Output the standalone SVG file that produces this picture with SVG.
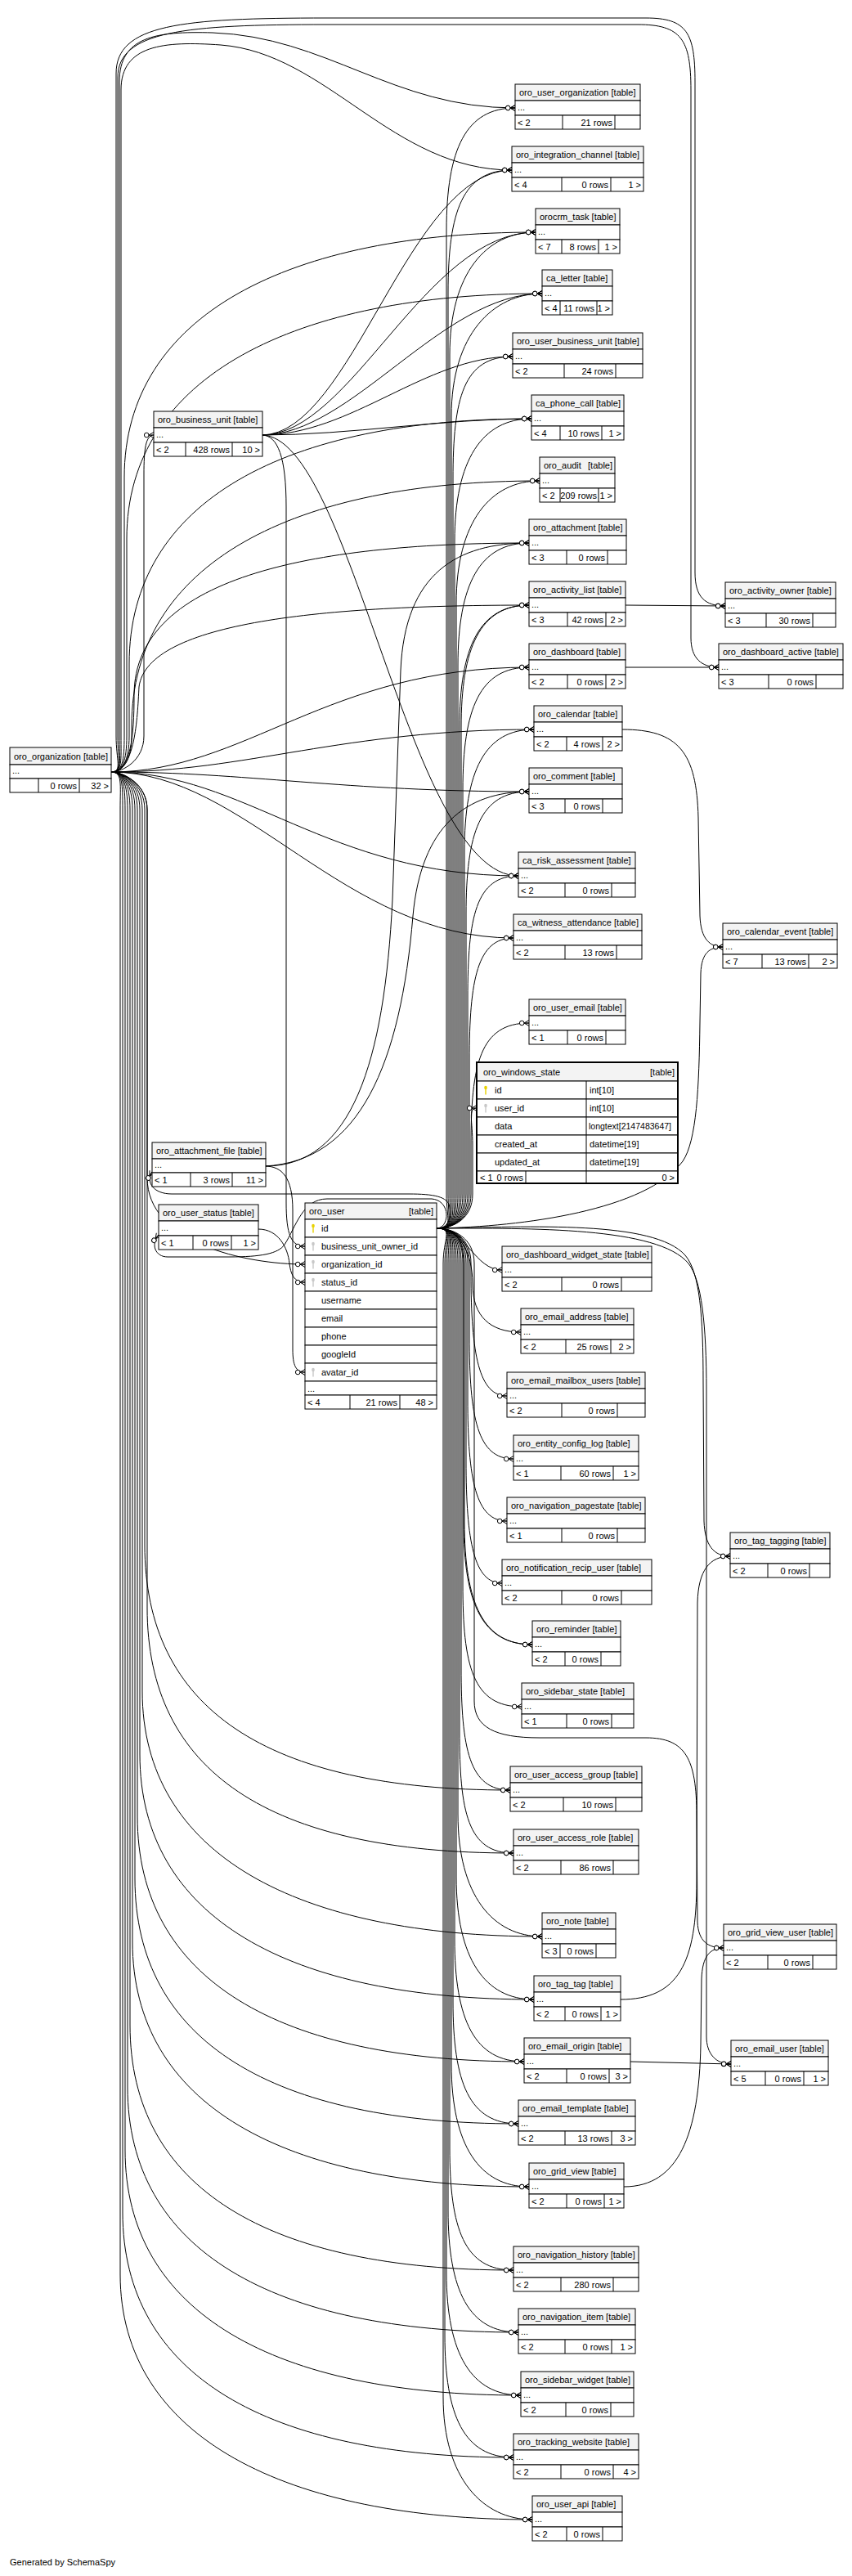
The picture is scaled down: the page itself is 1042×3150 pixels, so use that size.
<svg xmlns="http://www.w3.org/2000/svg" width="1042" height="3150" viewBox="0 0 1042 3150">
<style>
.t{font-family:"Liberation Sans",Arial,Helvetica,sans-serif;font-size:11px;fill:#000}
.r{text-anchor:end}
.hd{fill:#f3f3f3;stroke:#000;stroke-width:1}
.bx{fill:#fff;stroke:#000;stroke-width:1}
.sp{stroke:#000;stroke-width:1;fill:none}
.e path{fill:none;stroke:#000;stroke-width:1;marker-end:url(#cf)}
.pk{fill:#e8d200}
.fk{fill:#c8c8c8}
</style>
<defs>
<marker id="cf" viewBox="-13 -5 14 10" refX="0" refY="0" markerWidth="14" markerHeight="10" orient="auto" markerUnits="userSpaceOnUse">
<path d="M-6,0 L0,-3.5 M-6,0 L0,0 M-6,0 L0,3.5" stroke="#000" fill="none" stroke-width="1"/>
<circle cx="-8.8" cy="0" r="2.8" fill="#fff" stroke="#000" stroke-width="1"/>
</marker>
<g id="key"><ellipse cx="0" cy="-3" rx="1.8" ry="2.2"/><rect x="-0.7" y="-1.5" width="1.4" height="7"/></g>
</defs>
<rect width="1042" height="3150" fill="#fff"/>
<g id="edges" class="e">
<!-- oro_organization -->
<path d="M136,944 C150,944 146,930 146,900 L146,100 C146,45 190,38 260,40 C400,45 480,132 630,132"/>
<path d="M136,944 C150,944 148,930 148,900 L148,110 C148,55 200,50 270,55 C400,65 480,208 626,208"/>
<path d="M136,944 C150,944 152,930 152,900 L152,584 C152,384 355,284 655,284"/>
<path d="M136,944 C150,944 155,930 155,900 L155,659 C155,459 363,359 663,359"/>
<path d="M136,944 C150,944 158,930 158,900 L158,812 C158,612 350,512 650,512"/>
<path d="M136,944 C150,944 161,930 161,900 L161,888 C161,688 360,588 660,588"/>
<path d="M136,944 C160,944 164,900 164,850 C164,700 400,664 647,664"/>
<path d="M136,944 C165,944 168,880 170,840 C180,760 400,740 647,740"/>
<path d="M136,944 C300,944 400,816 647,816"/>
<path d="M136,944 C300,944 420,892 653,892"/>
<path d="M136,944 C300,944 420,968 647,968"/>
<path d="M136,944 C150,944 142,930 142,900 L142,90 C142,30 220,22 400,22 L790,22 C840,22 850,40 850,100 L850,700 C850,730 862,741 887,741"/>
<path d="M136,944 C150,944 144,930 144,900 L144,95 C144,38 225,30 400,30 L780,30 C833,30 845,48 845,110 L845,780 C845,805 858,816 879,816"/>
<path d="M136,944 C150,944 176,930 176,900 L176,580 C176,550 178,532 188,532"/>
<path d="M136,944 C300,944 400,1071 634,1071"/>
<path d="M136,944 C300,944 420,1147 628,1147"/>
<path d="M136,944 C150,944 180,958 180,990 L180,1440 C180,1520 300,1546 373,1546"/>
<path d="M136,944 C150,944 180,958 180,990 L180,1966 C180,2166 328,2266 628,2266"/>
<path d="M136,944 C150,944 177,958 177,990 L177,1889 C177,2089 324,2189 624,2189"/>
<path d="M136,944 C150,944 174,958 174,990 L174,2068 C174,2268 363,2368 663,2368"/>
<path d="M136,944 C150,944 171,958 171,990 L171,2145 C171,2345 353,2445 653,2445"/>
<path d="M136,944 C150,944 168,958 168,990 L168,2221 C168,2421 341,2521 641,2521"/>
<path d="M136,944 C150,944 165,958 165,990 L165,2297 C165,2497 334,2597 634,2597"/>
<path d="M136,944 C150,944 162,958 162,990 L162,2374 C162,2574 347,2674 647,2674"/>
<path d="M136,944 C150,944 159,958 159,990 L159,2476 C159,2676 328,2776 628,2776"/>
<path d="M136,944 C150,944 156,958 156,990 L156,2552 C156,2752 334,2852 634,2852"/>
<path d="M136,944 C150,944 153,958 153,990 L153,2629 C153,2829 337,2929 637,2929"/>
<path d="M136,944 C150,944 150,958 150,990 L150,2705 C150,2905 328,3005 628,3005"/>
<path d="M136,944 C150,944 147,958 147,990 L147,2781 C147,2981 351,3081 651,3081"/>
<!-- oro_user -->
<path d="M534,1502 C555,1502 546,1490 546,1460 L546,282 C546,182 570,132 630,132"/>
<path d="M534,1502 C555,1502 548,1490 548,1460 L548,358 C548,258 566,208 626,208"/>
<path d="M534,1502 C555,1502 550,1490 550,1460 L550,434 C550,334 595,284 655,284"/>
<path d="M534,1502 C555,1502 552,1490 552,1460 L552,509 C552,409 603,359 663,359"/>
<path d="M534,1502 C555,1502 554,1490 554,1460 L554,586 C554,486 567,436 627,436"/>
<path d="M534,1502 C555,1502 556,1490 556,1460 L556,662 C556,562 590,512 650,512"/>
<path d="M534,1502 C555,1502 558,1490 558,1460 L558,738 C558,638 600,588 660,588"/>
<path d="M534,1502 C555,1502 560,1490 560,1460 L560,814 C560,714 587,664 647,664"/>
<path d="M534,1502 C555,1502 562,1490 562,1460 L562,890 C562,790 587,740 647,740"/>
<path d="M534,1502 C555,1502 564,1490 564,1460 L564,890 C564,792 587,740 647,740"/>
<path d="M534,1502 C555,1502 566,1490 566,1460 L566,966 C566,866 587,816 647,816"/>
<path d="M534,1502 C555,1502 568,1490 568,1460 L568,1042 C568,942 593,892 653,892"/>
<path d="M534,1502 C555,1502 570,1490 570,1460 L570,1118 C570,1018 587,968 647,968"/>
<path d="M534,1502 C555,1502 572,1490 572,1460 L572,1221 C572,1121 582,1071 634,1071"/>
<path d="M534,1502 C555,1502 574,1490 574,1460 L574,1297 C574,1197 584,1147 628,1147"/>
<path d="M534,1502 C555,1502 576,1490 576,1460 L576,1401 C576,1301 587,1251 647,1251"/>
<path d="M534,1502 C555,1502 578,1490 578,1460 L578,1400 C578,1370 572,1355 583,1355"/>
<path d="M534,1502 C570,1502 580,1553 614,1553"/>
<path d="M534,1502 C560,1502 578,1530 578,1570 C578,1610 600,1629 637,1629"/>
<path d="M534,1502 C555,1502 576,1514 576,1545 L576,1557 C576,1657 586,1707 620,1707"/>
<path d="M534,1502 C555,1502 574,1514 574,1545 L574,1634 C574,1734 584,1784 628,1784"/>
<path d="M534,1502 C555,1502 572,1514 572,1545 L572,1710 C572,1810 582,1860 620,1860"/>
<path d="M534,1502 C555,1502 570,1514 570,1545 L570,1786 C570,1886 580,1936 614,1936"/>
<path d="M534,1502 C555,1502 568,1514 568,1545 L568,1861 C568,1961 591,2011 651,2011"/>
<path d="M534,1502 C555,1502 567,1514 567,1545 L567,1861 C567,1963 591,2011 651,2011"/>
<path d="M534,1502 C555,1502 566,1514 566,1545 L566,1937 C566,2037 578,2087 638,2087"/>
<path d="M534,1502 C555,1502 564,1514 564,1545 L564,2039 C564,2139 574,2189 624,2189"/>
<path d="M534,1502 C555,1502 562,1514 562,1545 L562,2116 C562,2216 572,2266 628,2266"/>
<path d="M534,1502 C555,1502 560,1514 560,1545 L560,2218 C560,2318 603,2368 663,2368"/>
<path d="M534,1502 C555,1502 558,1514 558,1545 L558,2295 C558,2395 593,2445 653,2445"/>
<path d="M534,1502 C555,1502 556,1514 556,1545 L556,2371 C556,2471 581,2521 641,2521"/>
<path d="M534,1502 C555,1502 554,1514 554,1545 L554,2447 C554,2547 574,2597 634,2597"/>
<path d="M534,1502 C555,1502 552,1514 552,1545 L552,2524 C552,2624 587,2674 647,2674"/>
<path d="M534,1502 C555,1502 550,1514 550,1545 L550,2626 C550,2726 568,2776 628,2776"/>
<path d="M534,1502 C555,1502 548,1514 548,1545 L548,2702 C548,2802 574,2852 634,2852"/>
<path d="M534,1502 C555,1502 546,1514 546,1545 L546,2779 C546,2879 577,2929 637,2929"/>
<path d="M534,1502 C555,1502 544,1514 544,1545 L544,2855 C544,2955 568,3005 628,3005"/>
<path d="M534,1502 C555,1502 542,1514 542,1545 L542,2931 C542,3031 591,3081 651,3081"/>
<path d="M534,1502 C640,1500 790,1480 835,1420 C852,1395 855,1330 856,1250 L857,1190 C858,1165 868,1158 884,1158"/>
<path d="M534,1502 C650,1500 800,1492 838,1535 C856,1556 860,1610 860,1690 L861,1860 C862,1890 873,1903 893,1903"/>
<path d="M534,1502 C555,1502 580,1514 580,1545 L580,2080 C580,2112 605,2125 660,2125 L790,2125 C838,2125 852,2150 852,2220 L853,2350 C854,2374 866,2382 885,2382"/>
<path d="M534,1502 C650,1502 805,1500 842,1545 C858,1565 864,1620 864,1700 L864,2490 C864,2512 876,2524 894,2524"/>
<path d="M534,1502 C548,1502 552,1490 550,1476 C548,1463 530,1460 500,1460 L210,1460 C188,1460 178,1446 186,1433"/>
<path d="M534,1502 C550,1502 552,1468 528,1466 L400,1466 C370,1466 362,1500 348,1522 C340,1533 320,1537 280,1537 L205,1537 C190,1537 184,1522 194,1510"/>
<!-- oro_business_unit -->
<path d="M320,532 C340,532 350,560 350,620 L350,1470 C350,1510 356,1524 373,1524"/>
<path d="M320,532 C430,532 500,208 626,208"/>
<path d="M320,532 C430,532 520,284 655,284"/>
<path d="M320,532 C430,532 540,359 663,359"/>
<path d="M320,532 C430,532 520,436 627,436"/>
<path d="M320,532 C430,532 540,512 650,512"/>
<path d="M320,532 C430,532 500,1071 634,1071"/>
<!-- oro_attachment_file -->
<path d="M324,1426 C345,1426 358,1440 358,1480 L358,1650 C358,1670 362,1678 373,1678"/>
<path d="M324,1426 C430,1426 470,1300 480,1100 L490,820 C495,700 560,664 647,664"/>
<path d="M324,1426 C440,1420 490,1300 505,1120 C515,1010 570,968 647,968"/>
<!-- oro_user_status -->
<path d="M316,1503 C340,1503 352,1525 354,1545 C356,1562 362,1568 373,1568"/>
<!-- others -->
<path d="M765,740 L887,741"/>
<path d="M765,816 L879,816"/>
<path d="M761,892 C830,892 852,920 854,1000 L856,1120 C857,1148 868,1158 884,1158"/>
<path d="M759,2445 C830,2445 852,2400 852,2300 L853,1960 C854,1920 868,1903 893,1903"/>
<path d="M763,2674 C830,2674 855,2610 857,2500 L858,2420 C859,2392 868,2382 885,2382"/>
<path d="M771,2521 L894,2524"/>
</g>
<g id="oro_organization" transform="translate(12,914)"><rect class="hd" width="124" height="21"/><rect class="bx" y="21" width="124" height="17"/><rect class="bx" y="38" width="124" height="17"/><path class="sp" d="M35,38v17M85,38v17"/><text class="t" x="5" y="15">oro_organization [table]</text><text class="t" x="3" y="32">...</text><text class="t r" x="82" y="51">0 rows</text><text class="t r" x="121" y="51">32 &gt;</text></g>
<g id="oro_business_unit" transform="translate(188,503)"><rect class="hd" width="133" height="20"/><rect class="bx" y="20" width="133" height="18"/><rect class="bx" y="38" width="133" height="17"/><path class="sp" d="M39,38v17M96,38v17"/><text class="t" x="5" y="14">oro_business_unit [table]</text><text class="t" x="3" y="32">...</text><text class="t" x="3" y="51">&lt; 2</text><text class="t r" x="93" y="51">428 rows</text><text class="t r" x="130" y="51">10 &gt;</text></g>
<g id="oro_attachment_file" transform="translate(186,1397)"><rect class="hd" width="139" height="20"/><rect class="bx" y="20" width="139" height="17"/><rect class="bx" y="37" width="139" height="17"/><path class="sp" d="M47,37v17M98,37v17"/><text class="t" x="5" y="14">oro_attachment_file [table]</text><text class="t" x="3" y="31">...</text><text class="t" x="3" y="50">&lt; 1</text><text class="t r" x="95" y="50">3 rows</text><text class="t r" x="136" y="50">11 &gt;</text></g>
<g id="oro_user_status" transform="translate(194,1473)"><rect class="hd" width="122" height="20"/><rect class="bx" y="20" width="122" height="18"/><rect class="bx" y="38" width="122" height="17"/><path class="sp" d="M42,38v17M89,38v17"/><text class="t" x="5" y="14">oro_user_status [table]</text><text class="t" x="3" y="32">...</text><text class="t" x="3" y="51">&lt; 1</text><text class="t r" x="86" y="51">0 rows</text><text class="t r" x="119" y="51">1 &gt;</text></g>
<g id="oro_user" transform="translate(373,1471)"><rect class="hd" width="161" height="20"/>
<rect class="bx" y="20" width="161" height="22"/><rect class="bx" y="42" width="161" height="22"/><rect class="bx" y="64" width="161" height="22"/><rect class="bx" y="86" width="161" height="22"/><rect class="bx" y="108" width="161" height="22"/><rect class="bx" y="130" width="161" height="22"/><rect class="bx" y="152" width="161" height="22"/><rect class="bx" y="174" width="161" height="22"/><rect class="bx" y="196" width="161" height="22"/><rect class="bx" y="218" width="161" height="17"/><rect class="bx" y="235" width="161" height="17"/><path class="sp" d="M55,235v17M116,235v17"/>
<text class="t" x="5" y="14">oro_user</text><text class="t r" x="157" y="14">[table]</text>
<use href="#key" class="pk" x="10" y="31"/><use href="#key" class="fk" x="10" y="53"/><use href="#key" class="fk" x="10" y="75"/><use href="#key" class="fk" x="10" y="97"/><use href="#key" class="fk" x="10" y="207"/>
<text class="t" x="20" y="35">id</text><text class="t" x="20" y="57">business_unit_owner_id</text><text class="t" x="20" y="79">organization_id</text><text class="t" x="20" y="101">status_id</text><text class="t" x="20" y="123">username</text><text class="t" x="20" y="145">email</text><text class="t" x="20" y="167">phone</text><text class="t" x="20" y="189">googleId</text><text class="t" x="20" y="211">avatar_id</text>
<text class="t" x="3" y="231">...</text><text class="t" x="3" y="248">&lt; 4</text><text class="t r" x="113" y="248">21 rows</text><text class="t r" x="157" y="248">48 &gt;</text></g>
<g id="oro_windows_state" transform="translate(583,1299)"><rect class="hd" width="246" height="23"/>
<rect class="bx" y="23" width="246" height="22"/><rect class="bx" y="45" width="246" height="22"/><rect class="bx" y="67" width="246" height="22"/><rect class="bx" y="89" width="246" height="22"/><rect class="bx" y="111" width="246" height="22"/><rect class="bx" y="133" width="246" height="15"/>
<path class="sp" d="M134,23v125M60,133v15"/>
<rect width="246" height="148" fill="none" stroke="#000" stroke-width="2"/>
<text class="t" x="8" y="16">oro_windows_state</text><text class="t r" x="242" y="16">[table]</text>
<use href="#key" class="pk" x="11" y="34"/><use href="#key" class="fk" x="11" y="56"/>
<text class="t" x="22" y="38">id</text><text class="t" x="138" y="38">int[10]</text>
<text class="t" x="22" y="60">user_id</text><text class="t" x="138" y="60">int[10]</text>
<text class="t" x="22" y="82">data</text><text class="t" x="137" y="82" style="font-size:10.5px">longtext[2147483647]</text>
<text class="t" x="22" y="104">created_at</text><text class="t" x="138" y="104">datetime[19]</text>
<text class="t" x="22" y="126">updated_at</text><text class="t" x="138" y="126">datetime[19]</text>
<text class="t" x="4" y="145">&lt; 1</text><text class="t r" x="57" y="145">0 rows</text><text class="t r" x="242" y="145">0 &gt;</text></g>
<g id="oro_user_organization" transform="translate(630,103)"><rect class="hd" width="153" height="20"/><rect class="bx" y="20" width="153" height="18"/><rect class="bx" y="38" width="153" height="17"/><path class="sp" d="M58,38v17M122,38v17"/><text class="t" x="5" y="14">oro_user_organization [table]</text><text class="t" x="3" y="32">...</text><text class="t" x="3" y="51">&lt; 2</text><text class="t r" x="119" y="51">21 rows</text></g>
<g id="oro_integration_channel" transform="translate(626,179)"><rect class="hd" width="161" height="20"/><rect class="bx" y="20" width="161" height="18"/><rect class="bx" y="38" width="161" height="17"/><path class="sp" d="M61,38v17M121,38v17"/><text class="t" x="5" y="14">oro_integration_channel [table]</text><text class="t" x="3" y="32">...</text><text class="t" x="3" y="51">&lt; 4</text><text class="t r" x="118" y="51">0 rows</text><text class="t r" x="158" y="51">1 &gt;</text></g>
<g id="orocrm_task" transform="translate(655,255)"><rect class="hd" width="103" height="20"/><rect class="bx" y="20" width="103" height="18"/><rect class="bx" y="38" width="103" height="17"/><path class="sp" d="M32,38v17M77,38v17"/><text class="t" x="5" y="14">orocrm_task [table]</text><text class="t" x="3" y="32">...</text><text class="t" x="3" y="51">&lt; 7</text><text class="t r" x="74" y="51">8 rows</text><text class="t r" x="100" y="51">1 &gt;</text></g>
<g id="ca_letter" transform="translate(663,330)"><rect class="hd" width="86" height="20"/><rect class="bx" y="20" width="86" height="18"/><rect class="bx" y="38" width="86" height="17"/><path class="sp" d="M22,38v17M67,38v17"/><text class="t" x="5" y="14">ca_letter [table]</text><text class="t" x="3" y="32">...</text><text class="t" x="3" y="51">&lt; 4</text><text class="t r" x="64" y="51">11 rows</text><text class="t r" x="83" y="51">1 &gt;</text></g>
<g id="oro_user_business_unit" transform="translate(627,407)"><rect class="hd" width="159" height="20"/><rect class="bx" y="20" width="159" height="18"/><rect class="bx" y="38" width="159" height="17"/><path class="sp" d="M63,38v17M126,38v17"/><text class="t" x="5" y="14">oro_user_business_unit [table]</text><text class="t" x="3" y="32">...</text><text class="t" x="3" y="51">&lt; 2</text><text class="t r" x="123" y="51">24 rows</text></g>
<g id="ca_phone_call" transform="translate(650,483)"><rect class="hd" width="113" height="20"/><rect class="bx" y="20" width="113" height="18"/><rect class="bx" y="38" width="113" height="17"/><path class="sp" d="M35,38v17M86,38v17"/><text class="t" x="5" y="14">ca_phone_call [table]</text><text class="t" x="3" y="32">...</text><text class="t" x="3" y="51">&lt; 4</text><text class="t r" x="83" y="51">10 rows</text><text class="t r" x="110" y="51">1 &gt;</text></g>
<g id="oro_audit" transform="translate(660,559)"><rect class="hd" width="92" height="20"/><rect class="bx" y="20" width="92" height="18"/><rect class="bx" y="38" width="92" height="17"/><path class="sp" d="M25,38v17M72,38v17"/><text class="t" x="5" y="14">oro_audit</text><text class="t r" x="89" y="14">[table]</text><text class="t" x="3" y="32">...</text><text class="t" x="3" y="51">&lt; 2</text><text class="t r" x="70" y="51">209 rows</text><text class="t r" x="89" y="51">1 &gt;</text></g>
<g id="oro_attachment" transform="translate(647,635)"><rect class="hd" width="119" height="20"/><rect class="bx" y="20" width="119" height="18"/><rect class="bx" y="38" width="119" height="17"/><path class="sp" d="M46,38v17M96,38v17"/><text class="t" x="5" y="14">oro_attachment [table]</text><text class="t" x="3" y="32">...</text><text class="t" x="3" y="51">&lt; 3</text><text class="t r" x="93" y="51">0 rows</text></g>
<g id="oro_activity_list" transform="translate(647,711)"><rect class="hd" width="118" height="20"/><rect class="bx" y="20" width="118" height="18"/><rect class="bx" y="38" width="118" height="17"/><path class="sp" d="M47,38v17M94,38v17"/><text class="t" x="5" y="14">oro_activity_list [table]</text><text class="t" x="3" y="32">...</text><text class="t" x="3" y="51">&lt; 3</text><text class="t r" x="91" y="51">42 rows</text><text class="t r" x="115" y="51">2 &gt;</text></g>
<g id="oro_dashboard" transform="translate(647,787)"><rect class="hd" width="118" height="20"/><rect class="bx" y="20" width="118" height="18"/><rect class="bx" y="38" width="118" height="17"/><path class="sp" d="M47,38v17M94,38v17"/><text class="t" x="5" y="14">oro_dashboard [table]</text><text class="t" x="3" y="32">...</text><text class="t" x="3" y="51">&lt; 2</text><text class="t r" x="91" y="51">0 rows</text><text class="t r" x="115" y="51">2 &gt;</text></g>
<g id="oro_calendar" transform="translate(653,863)"><rect class="hd" width="108" height="20"/><rect class="bx" y="20" width="108" height="18"/><rect class="bx" y="38" width="108" height="17"/><path class="sp" d="M40,38v17M84,38v17"/><text class="t" x="5" y="14">oro_calendar [table]</text><text class="t" x="3" y="32">...</text><text class="t" x="3" y="51">&lt; 2</text><text class="t r" x="81" y="51">4 rows</text><text class="t r" x="105" y="51">2 &gt;</text></g>
<g id="oro_comment" transform="translate(647,939)"><rect class="hd" width="114" height="20"/><rect class="bx" y="20" width="114" height="18"/><rect class="bx" y="38" width="114" height="17"/><path class="sp" d="M44,38v17M90,38v17"/><text class="t" x="5" y="14">oro_comment [table]</text><text class="t" x="3" y="32">...</text><text class="t" x="3" y="51">&lt; 3</text><text class="t r" x="87" y="51">0 rows</text></g>
<g id="ca_risk_assessment" transform="translate(634,1042)"><rect class="hd" width="143" height="20"/><rect class="bx" y="20" width="143" height="18"/><rect class="bx" y="38" width="143" height="17"/><path class="sp" d="M57,38v17M114,38v17"/><text class="t" x="5" y="14">ca_risk_assessment [table]</text><text class="t" x="3" y="32">...</text><text class="t" x="3" y="51">&lt; 2</text><text class="t r" x="111" y="51">0 rows</text></g>
<g id="ca_witness_attendance" transform="translate(628,1118)"><rect class="hd" width="157" height="20"/><rect class="bx" y="20" width="157" height="18"/><rect class="bx" y="38" width="157" height="17"/><path class="sp" d="M63,38v17M126,38v17"/><text class="t" x="5" y="14">ca_witness_attendance [table]</text><text class="t" x="3" y="32">...</text><text class="t" x="3" y="51">&lt; 2</text><text class="t r" x="123" y="51">13 rows</text></g>
<g id="oro_user_email" transform="translate(647,1222)"><rect class="hd" width="118" height="20"/><rect class="bx" y="20" width="118" height="18"/><rect class="bx" y="38" width="118" height="17"/><path class="sp" d="M47,38v17M94,38v17"/><text class="t" x="5" y="14">oro_user_email [table]</text><text class="t" x="3" y="32">...</text><text class="t" x="3" y="51">&lt; 1</text><text class="t r" x="91" y="51">0 rows</text></g>
<g id="oro_dashboard_widget_state" transform="translate(614,1524)"><rect class="hd" width="183" height="20"/><rect class="bx" y="20" width="183" height="18"/><rect class="bx" y="38" width="183" height="17"/><path class="sp" d="M73,38v17M146,38v17"/><text class="t" x="5" y="14">oro_dashboard_widget_state [table]</text><text class="t" x="3" y="32">...</text><text class="t" x="3" y="51">&lt; 2</text><text class="t r" x="143" y="51">0 rows</text></g>
<g id="oro_email_address" transform="translate(637,1600)"><rect class="hd" width="138" height="20"/><rect class="bx" y="20" width="138" height="18"/><rect class="bx" y="38" width="138" height="17"/><path class="sp" d="M55,38v17M110,38v17"/><text class="t" x="5" y="14">oro_email_address [table]</text><text class="t" x="3" y="32">...</text><text class="t" x="3" y="51">&lt; 2</text><text class="t r" x="107" y="51">25 rows</text><text class="t r" x="135" y="51">2 &gt;</text></g>
<g id="oro_email_mailbox_users" transform="translate(620,1678)"><rect class="hd" width="169" height="20"/><rect class="bx" y="20" width="169" height="18"/><rect class="bx" y="38" width="169" height="17"/><path class="sp" d="M67,38v17M135,38v17"/><text class="t" x="5" y="14">oro_email_mailbox_users [table]</text><text class="t" x="3" y="32">...</text><text class="t" x="3" y="51">&lt; 2</text><text class="t r" x="132" y="51">0 rows</text></g>
<g id="oro_entity_config_log" transform="translate(628,1755)"><rect class="hd" width="153" height="20"/><rect class="bx" y="20" width="153" height="18"/><rect class="bx" y="38" width="153" height="17"/><path class="sp" d="M58,38v17M122,38v17"/><text class="t" x="5" y="14">oro_entity_config_log [table]</text><text class="t" x="3" y="32">...</text><text class="t" x="3" y="51">&lt; 1</text><text class="t r" x="119" y="51">60 rows</text><text class="t r" x="150" y="51">1 &gt;</text></g>
<g id="oro_navigation_pagestate" transform="translate(620,1831)"><rect class="hd" width="169" height="20"/><rect class="bx" y="20" width="169" height="18"/><rect class="bx" y="38" width="169" height="17"/><path class="sp" d="M67,38v17M135,38v17"/><text class="t" x="5" y="14">oro_navigation_pagestate [table]</text><text class="t" x="3" y="32">...</text><text class="t" x="3" y="51">&lt; 1</text><text class="t r" x="132" y="51">0 rows</text></g>
<g id="oro_notification_recip_user" transform="translate(614,1907)"><rect class="hd" width="183" height="20"/><rect class="bx" y="20" width="183" height="18"/><rect class="bx" y="38" width="183" height="17"/><path class="sp" d="M73,38v17M146,38v17"/><text class="t" x="5" y="14">oro_notification_recip_user [table]</text><text class="t" x="3" y="32">...</text><text class="t" x="3" y="51">&lt; 2</text><text class="t r" x="143" y="51">0 rows</text></g>
<g id="oro_reminder" transform="translate(651,1982)"><rect class="hd" width="108" height="20"/><rect class="bx" y="20" width="108" height="18"/><rect class="bx" y="38" width="108" height="17"/><path class="sp" d="M40,38v17M84,38v17"/><text class="t" x="5" y="14">oro_reminder [table]</text><text class="t" x="3" y="32">...</text><text class="t" x="3" y="51">&lt; 2</text><text class="t r" x="81" y="51">0 rows</text></g>
<g id="oro_sidebar_state" transform="translate(638,2058)"><rect class="hd" width="137" height="20"/><rect class="bx" y="20" width="137" height="18"/><rect class="bx" y="38" width="137" height="17"/><path class="sp" d="M55,38v17M110,38v17"/><text class="t" x="5" y="14">oro_sidebar_state [table]</text><text class="t" x="3" y="32">...</text><text class="t" x="3" y="51">&lt; 1</text><text class="t r" x="107" y="51">0 rows</text></g>
<g id="oro_user_access_group" transform="translate(624,2160)"><rect class="hd" width="161" height="20"/><rect class="bx" y="20" width="161" height="18"/><rect class="bx" y="38" width="161" height="17"/><path class="sp" d="M65,38v17M129,38v17"/><text class="t" x="5" y="14">oro_user_access_group [table]</text><text class="t" x="3" y="32">...</text><text class="t" x="3" y="51">&lt; 2</text><text class="t r" x="126" y="51">10 rows</text></g>
<g id="oro_user_access_role" transform="translate(628,2237)"><rect class="hd" width="153" height="20"/><rect class="bx" y="20" width="153" height="18"/><rect class="bx" y="38" width="153" height="17"/><path class="sp" d="M58,38v17M122,38v17"/><text class="t" x="5" y="14">oro_user_access_role [table]</text><text class="t" x="3" y="32">...</text><text class="t" x="3" y="51">&lt; 2</text><text class="t r" x="119" y="51">86 rows</text></g>
<g id="oro_note" transform="translate(663,2339)"><rect class="hd" width="90" height="20"/><rect class="bx" y="20" width="90" height="18"/><rect class="bx" y="38" width="90" height="17"/><path class="sp" d="M22,38v17M66,38v17"/><text class="t" x="5" y="14">oro_note [table]</text><text class="t" x="3" y="32">...</text><text class="t" x="3" y="51">&lt; 3</text><text class="t r" x="63" y="51">0 rows</text></g>
<g id="oro_tag_tag" transform="translate(653,2416)"><rect class="hd" width="106" height="20"/><rect class="bx" y="20" width="106" height="18"/><rect class="bx" y="38" width="106" height="17"/><path class="sp" d="M38,38v17M82,38v17"/><text class="t" x="5" y="14">oro_tag_tag [table]</text><text class="t" x="3" y="32">...</text><text class="t" x="3" y="51">&lt; 2</text><text class="t r" x="79" y="51">0 rows</text><text class="t r" x="103" y="51">1 &gt;</text></g>
<g id="oro_email_origin" transform="translate(641,2492)"><rect class="hd" width="130" height="20"/><rect class="bx" y="20" width="130" height="18"/><rect class="bx" y="38" width="130" height="17"/><path class="sp" d="M52,38v17M104,38v17"/><text class="t" x="5" y="14">oro_email_origin [table]</text><text class="t" x="3" y="32">...</text><text class="t" x="3" y="51">&lt; 2</text><text class="t r" x="101" y="51">0 rows</text><text class="t r" x="127" y="51">3 &gt;</text></g>
<g id="oro_email_template" transform="translate(634,2568)"><rect class="hd" width="143" height="20"/><rect class="bx" y="20" width="143" height="18"/><rect class="bx" y="38" width="143" height="17"/><path class="sp" d="M57,38v17M114,38v17"/><text class="t" x="5" y="14">oro_email_template [table]</text><text class="t" x="3" y="32">...</text><text class="t" x="3" y="51">&lt; 2</text><text class="t r" x="111" y="51">13 rows</text><text class="t r" x="140" y="51">3 &gt;</text></g>
<g id="oro_grid_view" transform="translate(647,2645)"><rect class="hd" width="116" height="20"/><rect class="bx" y="20" width="116" height="18"/><rect class="bx" y="38" width="116" height="17"/><path class="sp" d="M46,38v17M92,38v17"/><text class="t" x="5" y="14">oro_grid_view [table]</text><text class="t" x="3" y="32">...</text><text class="t" x="3" y="51">&lt; 2</text><text class="t r" x="89" y="51">0 rows</text><text class="t r" x="113" y="51">1 &gt;</text></g>
<g id="oro_navigation_history" transform="translate(628,2747)"><rect class="hd" width="153" height="20"/><rect class="bx" y="20" width="153" height="18"/><rect class="bx" y="38" width="153" height="17"/><path class="sp" d="M58,38v17M122,38v17"/><text class="t" x="5" y="14">oro_navigation_history [table]</text><text class="t" x="3" y="32">...</text><text class="t" x="3" y="51">&lt; 2</text><text class="t r" x="119" y="51">280 rows</text></g>
<g id="oro_navigation_item" transform="translate(634,2823)"><rect class="hd" width="143" height="20"/><rect class="bx" y="20" width="143" height="18"/><rect class="bx" y="38" width="143" height="17"/><path class="sp" d="M57,38v17M114,38v17"/><text class="t" x="5" y="14">oro_navigation_item [table]</text><text class="t" x="3" y="32">...</text><text class="t" x="3" y="51">&lt; 2</text><text class="t r" x="111" y="51">0 rows</text><text class="t r" x="140" y="51">1 &gt;</text></g>
<g id="oro_sidebar_widget" transform="translate(637,2900)"><rect class="hd" width="138" height="20"/><rect class="bx" y="20" width="138" height="18"/><rect class="bx" y="38" width="138" height="17"/><path class="sp" d="M55,38v17M110,38v17"/><text class="t" x="5" y="14">oro_sidebar_widget [table]</text><text class="t" x="3" y="32">...</text><text class="t" x="3" y="51">&lt; 2</text><text class="t r" x="107" y="51">0 rows</text></g>
<g id="oro_tracking_website" transform="translate(628,2976)"><rect class="hd" width="153" height="20"/><rect class="bx" y="20" width="153" height="18"/><rect class="bx" y="38" width="153" height="17"/><path class="sp" d="M58,38v17M122,38v17"/><text class="t" x="5" y="14">oro_tracking_website [table]</text><text class="t" x="3" y="32">...</text><text class="t" x="3" y="51">&lt; 2</text><text class="t r" x="119" y="51">0 rows</text><text class="t r" x="150" y="51">4 &gt;</text></g>
<g id="oro_user_api" transform="translate(651,3052)"><rect class="hd" width="110" height="20"/><rect class="bx" y="20" width="110" height="18"/><rect class="bx" y="38" width="110" height="17"/><path class="sp" d="M42,38v17M86,38v17"/><text class="t" x="5" y="14">oro_user_api [table]</text><text class="t" x="3" y="32">...</text><text class="t" x="3" y="51">&lt; 2</text><text class="t r" x="83" y="51">0 rows</text></g>
<g id="oro_activity_owner" transform="translate(887,712)"><rect class="hd" width="135" height="20"/><rect class="bx" y="20" width="135" height="18"/><rect class="bx" y="38" width="135" height="17"/><path class="sp" d="M50,38v17M107,38v17"/><text class="t" x="5" y="14">oro_activity_owner [table]</text><text class="t" x="3" y="32">...</text><text class="t" x="3" y="51">&lt; 3</text><text class="t r" x="104" y="51">30 rows</text></g>
<g id="oro_dashboard_active" transform="translate(879,787)"><rect class="hd" width="152" height="20"/><rect class="bx" y="20" width="152" height="18"/><rect class="bx" y="38" width="152" height="17"/><path class="sp" d="M61,38v17M119,38v17"/><text class="t" x="5" y="14">oro_dashboard_active [table]</text><text class="t" x="3" y="32">...</text><text class="t" x="3" y="51">&lt; 3</text><text class="t r" x="116" y="51">0 rows</text></g>
<g id="oro_calendar_event" transform="translate(884,1129)"><rect class="hd" width="140" height="20"/><rect class="bx" y="20" width="140" height="18"/><rect class="bx" y="38" width="140" height="17"/><path class="sp" d="M48,38v17M105,38v17"/><text class="t" x="5" y="14">oro_calendar_event [table]</text><text class="t" x="3" y="32">...</text><text class="t" x="3" y="51">&lt; 7</text><text class="t r" x="102" y="51">13 rows</text><text class="t r" x="137" y="51">2 &gt;</text></g>
<g id="oro_tag_tagging" transform="translate(893,1874)"><rect class="hd" width="122" height="20"/><rect class="bx" y="20" width="122" height="18"/><rect class="bx" y="38" width="122" height="17"/><path class="sp" d="M46,38v17M97,38v17"/><text class="t" x="5" y="14">oro_tag_tagging [table]</text><text class="t" x="3" y="32">...</text><text class="t" x="3" y="51">&lt; 2</text><text class="t r" x="94" y="51">0 rows</text></g>
<g id="oro_grid_view_user" transform="translate(885,2353)"><rect class="hd" width="138" height="20"/><rect class="bx" y="20" width="138" height="18"/><rect class="bx" y="38" width="138" height="17"/><path class="sp" d="M54,38v17M109,38v17"/><text class="t" x="5" y="14">oro_grid_view_user [table]</text><text class="t" x="3" y="32">...</text><text class="t" x="3" y="51">&lt; 2</text><text class="t r" x="106" y="51">0 rows</text></g>
<g id="oro_email_user" transform="translate(894,2495)"><rect class="hd" width="119" height="20"/><rect class="bx" y="20" width="119" height="18"/><rect class="bx" y="38" width="119" height="17"/><path class="sp" d="M42,38v17M89,38v17"/><text class="t" x="5" y="14">oro_email_user [table]</text><text class="t" x="3" y="32">...</text><text class="t" x="3" y="51">&lt; 5</text><text class="t r" x="86" y="51">0 rows</text><text class="t r" x="116" y="51">1 &gt;</text></g>
<text class="t" x="12" y="3137">Generated by SchemaSpy</text>
</svg>
